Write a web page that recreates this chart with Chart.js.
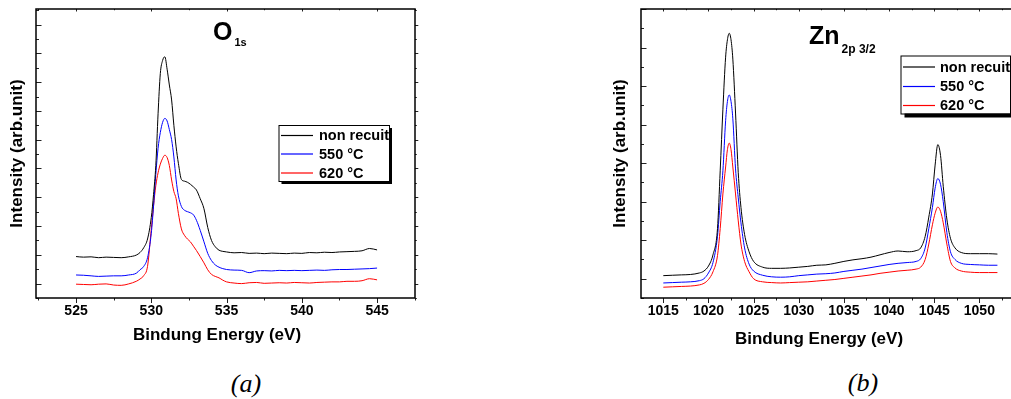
<!DOCTYPE html>
<html>
<head>
<meta charset="utf-8">
<script src="https://cdn.jsdelivr.net/npm/chart.js@4.4.0/dist/chart.umd.min.js"></script>
<style>
    html, body { margin: 0; padding: 0; background: #fff; width: 1011px; height: 399px; overflow: hidden; }
    body { position: relative; }
    canvas { position: absolute; top: 0; }
    #chartO { left: 0; }
    #chartZn { left: 600px; }
    .caption {
        position: absolute;
        font: italic 26px "Liberation Serif", "Times New Roman", serif;
        transform: translate(-50%, -50%);
    }
</style>
</head>
<body>
<canvas id="chartO" width="440" height="360"></canvas>
<canvas id="chartZn" width="425" height="360"></canvas>
<div class="caption" style="left:246px; top:384px">(a)</div>
<div class="caption" style="left:863px; top:383px">(b)</div>
<script>
// O 1s spectra (a)
const oEnergy = [525, 525.5, 526, 526.5, 527, 527.5, 528, 528.5, 529,
    529.25, 529.5, 529.75, 530,
    530.15, 530.3, 530.45, 530.6, 530.75, 530.9, 531.05, 531.2, 531.35, 531.5, 531.65, 531.8,
    532, 532.2, 532.4, 532.6, 532.8,
    533, 533.25, 533.5, 533.75, 534, 534.25, 534.5, 534.75, 535,
    535.5, 536, 536.5, 537, 537.5, 538, 538.5, 539, 539.5, 540, 540.5, 541, 541.5, 542, 542.5, 543, 543.5, 544, 544.5, 545];
const oNonRecuit = [0.94, 0.92, 0.93, 0.90, 0.92, 0.91, 0.90, 0.93, 0.99,
    1.08, 1.25, 1.55, 2.3,
    3.1, 4.1, 5.9, 7.3, 7.75, 7.88, 7.45, 6.9, 6.38, 5.5, 4.75, 4.18,
    3.62, 3.56, 3.52, 3.45, 3.36,
    3.25, 2.95, 2.6, 1.95, 1.5, 1.28, 1.16, 1.12, 1.1,
    1.07, 1.08, 1.05, 1.06, 1.04, 1.06, 1.05, 1.04, 1.06, 1.05, 1.08, 1.07, 1.09, 1.08, 1.1, 1.11, 1.12, 1.14, 1.22, 1.17];
const o550 = [0.30, 0.29, 0.27, 0.25, 0.26, 0.27, 0.27, 0.30, 0.36,
    0.48, 0.6, 0.9, 1.75,
    2.7, 3.8, 4.7, 5.25, 5.6, 5.74, 5.65, 5.35, 5.0, 4.4, 3.6, 3.05,
    2.68, 2.55, 2.5, 2.46, 2.39,
    2.2, 1.85, 1.45, 1.05, 0.8, 0.65, 0.57, 0.52, 0.49,
    0.47, 0.46, 0.38, 0.44, 0.45, 0.44, 0.46, 0.45, 0.46, 0.45, 0.46, 0.47, 0.46, 0.48, 0.49, 0.49, 0.5, 0.51, 0.52, 0.54];
const o620 = [-0.02, -0.03, -0.04, -0.02, -0.01, -0.05, -0.06, -0.01, 0.08,
    0.16, 0.28, 0.6, 1.9,
    2.7, 3.4, 3.85, 4.15, 4.35, 4.46, 4.38, 4.1, 3.6, 3.2, 2.95, 2.44,
    1.9, 1.68, 1.55, 1.45, 1.3,
    1.15, 0.94, 0.72, 0.48, 0.32, 0.25, 0.2, 0.12, 0.06,
    0.02, 0.0, 0.03, 0.04, 0.01, 0.02, 0.03, 0.02, 0.04, 0.03, 0.02, 0.04, 0.05, 0.06, 0.06, 0.08, 0.08, 0.1, 0.17, 0.13];
const oXTicks = [525, 530, 535, 540, 545];

// Zn 2p 3/2 spectra (b)
const znEnergy = [1015, 1016, 1017, 1018, 1019, 1019.5, 1020, 1020.5, 1021,
    1021.3, 1021.6, 1021.9, 1022.1, 1022.3, 1022.5, 1022.7, 1023, 1023.3, 1023.6, 1024, 1024.5, 1025,
    1026, 1027, 1028, 1029, 1030, 1031, 1032, 1033, 1034, 1035, 1036, 1037, 1038, 1039, 1040, 1041, 1042, 1043,
    1043.5, 1044, 1044.4, 1044.8, 1045.1, 1045.4, 1045.7, 1046, 1046.4, 1046.8, 1047.3,
    1048, 1049, 1050, 1051, 1052];
const znNonRecuit = [0.08, 0.09, 0.10, 0.11, 0.15, 0.2, 0.33, 0.62, 1.3,
    2.8, 4.4, 5.75, 6.2, 6.37, 6.2, 5.7, 4.3, 2.75, 1.85, 1.15, 0.7, 0.45,
    0.3, 0.27, 0.27, 0.28, 0.3, 0.32, 0.35, 0.36, 0.4, 0.45, 0.49, 0.52, 0.56, 0.62, 0.68, 0.72, 0.7, 0.73,
    0.8, 1.1, 1.6, 2.2, 2.95, 3.48, 3.2, 2.4, 1.55, 1.05, 0.8,
    0.68, 0.65, 0.65, 0.65, 0.64];
const zn550 = [-0.11, -0.10, -0.09, -0.08, -0.05, 0.0, 0.15, 0.42, 1.1,
    2.0, 2.8, 4.1, 4.6, 4.77, 4.6, 4.15, 2.85, 2.1, 1.45, 0.8, 0.38, 0.2,
    0.09, 0.05, 0.04, 0.05, 0.08, 0.1, 0.12, 0.13, 0.15, 0.19, 0.22, 0.25, 0.29, 0.33, 0.37, 0.4, 0.42, 0.45,
    0.52, 0.8, 1.3, 1.85, 2.35, 2.6, 2.45, 2.0, 1.2, 0.7, 0.5,
    0.4, 0.37, 0.36, 0.35, 0.35];
const zn620 = [-0.22, -0.21, -0.20, -0.19, -0.16, -0.12, -0.02, 0.18, 0.6,
    1.3, 2.2, 2.9, 3.35, 3.52, 3.35, 2.9, 2.2, 1.5, 0.9, 0.45, 0.18, 0.0,
    -0.08, -0.1, -0.11, -0.1, -0.09, -0.08, -0.06, -0.04, -0.02, 0.01, 0.04, 0.07, 0.1, 0.14, 0.17, 0.2, 0.22, 0.25,
    0.3, 0.5, 0.9, 1.4, 1.7, 1.86, 1.75, 1.45, 0.9, 0.45, 0.28,
    0.2, 0.17, 0.16, 0.16, 0.16];
const znXTicks = [1015, 1020, 1025, 1030, 1035, 1040, 1045, 1050];

const seriesLabels = ['non recuit', '550 °C', '620 °C'];
const seriesColors = ['#000000', '#0000ff', '#ff0000'];

const FONT_FAMILY = "'Liberation Sans', Arial, sans-serif";

function toPoints(xs, ys) {
    return xs.map((x, i) => ({ x: x, y: ys[i] }));
}

// Box frame with major/minor ticks on all four sides
const frameTicks = {
    id: 'frameTicks',
    afterDatasetsDraw(chart, args, opts) {
        const { ctx, chartArea: a, scales: { x, y } } = chart;
        ctx.save();
        ctx.strokeStyle = '#222';
        ctx.lineWidth = 1;
        ctx.beginPath();
        const xr = Math.round(opts.xMajor / opts.xMinor);
        for (let k = Math.ceil(x.min / opts.xMinor); k * opts.xMinor <= x.max; k++) {
            const px = Math.round(x.getPixelForValue(k * opts.xMinor)) + 0.5;
            const len = k % xr === 0 ? 5 : 2.5;
            ctx.moveTo(px, a.bottom);
            ctx.lineTo(px, a.bottom + len);
            ctx.moveTo(px, a.top);
            ctx.lineTo(px, a.top + len * 0.5);
        }
        const yr = Math.round(opts.yMajor / opts.yMinor);
        for (let k = Math.ceil(y.min / opts.yMinor); k * opts.yMinor <= y.max; k++) {
            const py = Math.round(y.getPixelForValue(k * opts.yMinor)) + 0.5;
            const len = k % yr === 0 ? 5.5 : 3;
            ctx.moveTo(a.left, py);
            ctx.lineTo(a.left + len, py);
            ctx.moveTo(a.right, py);
            ctx.lineTo(a.right + len * 0.6, py);
        }
        ctx.stroke();
        ctx.strokeStyle = '#000';
        ctx.lineWidth = 1.5;
        ctx.strokeRect(a.left, a.top, a.right - a.left, a.bottom - a.top);
        ctx.restore();
    }
};

// Framed legend with drop shadow, placed inside the plot
const boxLegend = {
    id: 'boxLegend',
    afterDatasetsDraw(chart, args, o) {
        const ctx = chart.ctx;
        ctx.save();
        ctx.fillStyle = '#000';
        ctx.fillRect(o.x + o.shadow, o.y + o.shadow, o.w, o.h);
        ctx.fillStyle = '#fff';
        ctx.fillRect(o.x, o.y, o.w, o.h);
        ctx.font = 'bold 14.5px ' + FONT_FAMILY;
        ctx.textBaseline = 'middle';
        chart.data.datasets.forEach((ds, i) => {
            const ry = o.rowY[i];
            ctx.strokeStyle = ds.borderColor;
            ctx.lineWidth = 1.2;
            ctx.beginPath();
            ctx.moveTo(o.lineX0, ry + 0.5);
            ctx.lineTo(o.lineX1, ry + 0.5);
            ctx.stroke();
            ctx.fillStyle = '#000';
            ctx.fillText(ds.label, o.textX, ry + 1);
        });
        ctx.strokeStyle = '#000';
        ctx.lineWidth = 1;
        ctx.strokeRect(o.x + 0.5, o.y + 0.5, o.w, o.h);
        ctx.restore();
    }
};

// Element title with subscript, plus the energy axis title
const spectrumTitle = {
    id: 'spectrumTitle',
    afterDatasetsDraw(chart, args, o) {
        const ctx = chart.ctx;
        ctx.save();
        ctx.fillStyle = '#000';
        ctx.textBaseline = 'alphabetic';
        ctx.font = 'bold 25px ' + FONT_FAMILY;
        ctx.fillText(o.main, o.x, o.baseline);
        const w = ctx.measureText(o.main).width;
        ctx.font = 'bold ' + o.subSize + 'px ' + FONT_FAMILY;
        ctx.fillText(o.sub, o.x + w + 2, o.subBaseline);

        ctx.font = 'bold 17px ' + FONT_FAMILY;
        ctx.textAlign = 'center';
        ctx.textBaseline = 'middle';
        ctx.fillText(o.xTitle, o.xTitleX, o.xTitleY);
        ctx.restore();
    }
};

function makeChart(id, cfg) {
    const ctx = document.getElementById(id).getContext('2d');
    const axisFont = { family: FONT_FAMILY, size: 14, weight: 'bold' };
    const titleFont = { family: FONT_FAMILY, size: 17, weight: 'bold' };
    return new Chart(ctx, {
        type: 'line',
        data: {
            datasets: cfg.series.map((ys, i) => ({
                label: seriesLabels[i],
                data: toPoints(cfg.energy, ys),
                borderColor: seriesColors[i],
                borderWidth: 1,
                pointRadius: 0,
                fill: false,
                cubicInterpolationMode: 'monotone'
            }))
        },
        options: {
            responsive: false,
            animation: false,
            devicePixelRatio: 1,
            layout: { padding: cfg.padding },
            plugins: {
                legend: { display: false },
                tooltip: { enabled: false },
                frameTicks: { xMajor: 5, xMinor: 2.5, yMajor: 1, yMinor: 0.5 },
                boxLegend: cfg.legend,
                spectrumTitle: cfg.title
            },
            scales: {
                x: {
                    type: 'linear',
                    min: cfg.xMin,
                    max: cfg.xMax,
                    afterBuildTicks: s => { s.ticks = cfg.xTicks.map(v => ({ value: v })); },
                    afterFit: s => { s.height = 62; },
                    grid: { display: false, drawTicks: false },
                    border: { display: false },
                    ticks: {
                        font: axisFont,
                        color: '#000',
                        padding: 5,
                        maxRotation: 0,
                        autoSkip: false,
                        callback: value => String(value)
                    },
                    title: { display: false }
                },
                y: {
                    type: 'linear',
                    min: cfg.yMin,
                    max: cfg.yMax,
                    afterFit: s => { s.width = cfg.yWidth; },
                    grid: { display: false, drawTicks: false },
                    border: { display: false },
                    ticks: { display: false },
                    title: {
                        display: true,
                        text: 'Intensity (arb.unit)',
                        font: titleFont,
                        color: '#000',
                        padding: { top: cfg.yTitlePad, bottom: 0 }
                    }
                }
            }
        },
        plugins: [frameTicks, boxLegend, spectrumTitle]
    });
}

makeChart('chartO', {
    energy: oEnergy,
    series: [oNonRecuit, o550, o620],
    xTicks: oXTicks,
    xMin: 522.34, xMax: 547.52,
    yMin: -0.5, yMax: 9.54,
    yWidth: 36, yTitlePad: 7,
    padding: { left: 0, top: 9, right: 25, bottom: 0 },
    legend: { x: 278.5, y: 125, w: 110.5, h: 56, shadow: 3, rowY: [135, 153.5, 172.5], lineX0: 281, lineX1: 313, textX: 319 },
    title: { main: 'O', sub: '1s', x: 213, baseline: 40, subBaseline: 46, subSize: 11,
             xTitle: 'Bindung Energy (eV)', xTitleX: 217, xTitleY: 335 }
});

makeChart('chartZn', {
    energy: znEnergy,
    series: [znNonRecuit, zn550, zn620],
    xTicks: znXTicks,
    xMin: 1012.53, xMax: 1054.5,
    yMin: -0.5, yMax: 7.0,
    yWidth: 41, yTitlePad: 10,
    padding: { left: 0, top: 9, right: 5, bottom: 0 },
    legend: { x: 300.5, y: 55.5, w: 109.5, h: 58, shadow: 4, rowY: [66.5, 86, 105], lineX0: 303, lineX1: 335, textX: 340 },
    title: { main: 'Zn', sub: '2p 3/2', x: 209, baseline: 44, subBaseline: 53, subSize: 12,
             xTitle: 'Bindung Energy (eV)', xTitleX: 219, xTitleY: 339 }
});
</script>
</body>
</html>
